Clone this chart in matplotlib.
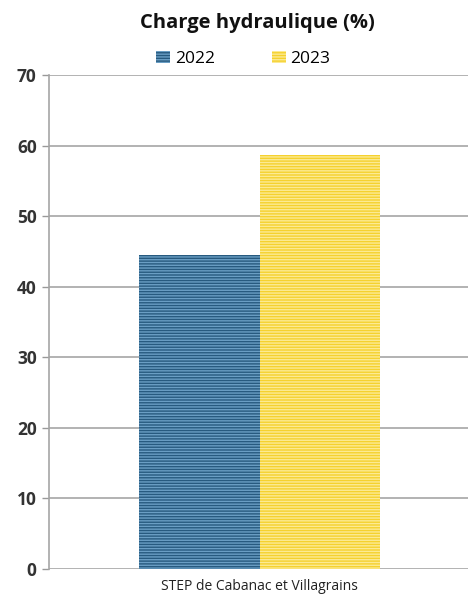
import matplotlib
matplotlib.use("Agg")
import matplotlib.pyplot as plt
import numpy as np

categories = ["STEP de Cabanac et Villagrains"]
series_names = ["2022", "2023"]
values_2022 = [44.5]
values_2023 = [58.7]
yticks = [0, 10, 20, 30, 40, 50, 60, 70]

plt.rcParams['font.family'] = ['Open Sans', 'DejaVu Sans']
plt.rcParams['hatch.linewidth'] = 1.0

fig = plt.figure(figsize=(4.68, 5.96), dpi=100)
ax = fig.add_axes([0.105, 0.0453, 0.90, 0.829])

x = np.arange(len(categories))
w = 0.2857
face = ['#275a7f', '#f5d12e']
hatchc = ['#6a9ec4', '#fcea93']
b1 = ax.bar(x - w/2, values_2022, w, color=face[0], edgecolor=hatchc[0], hatch='------', linewidth=0, label=series_names[0], zorder=3)
b2 = ax.bar(x + w/2, values_2023, w, color=face[1], edgecolor=hatchc[1], hatch='------', linewidth=0, label=series_names[1], zorder=3)

ax.set_xlim(-0.5, 0.5)
ax.set_ylim(0, 70)
ax.set_yticks(yticks)
ax.set_yticklabels([str(t) for t in yticks], fontsize=12.5, fontweight='bold', color='#333333')
ax.set_xticks(x)
ax.set_xticklabels(categories, fontsize=10, color='#222222')
ax.tick_params(axis='x', length=0, pad=7)
ax.tick_params(axis='y', length=5, color='#999999', width=1, pad=4)
ax.yaxis.grid(True, color='#a6a6a6', linewidth=1.2, zorder=0)
ax.set_axisbelow(True)
for s in ['top', 'right', 'bottom']:
    ax.spines[s].set_visible(False)
ax.spines['left'].set_color('#a6a6a6')
ax.spines['left'].set_linewidth(1.2)

fig.text(0.550, 0.962, "Charge hydraulique (%)", ha='center', va='center', fontsize=14.5, fontweight='bold', color='#111111')
leg = fig.legend(handles=[b1, b2], labels=series_names, loc='center', bbox_to_anchor=(0.52, 0.901), ncol=2,
                 frameon=False, fontsize=12.5, handlelength=0.8, handleheight=0.7, columnspacing=3.3, handletextpad=0.25)

fig.savefig("out.png", dpi=100)
